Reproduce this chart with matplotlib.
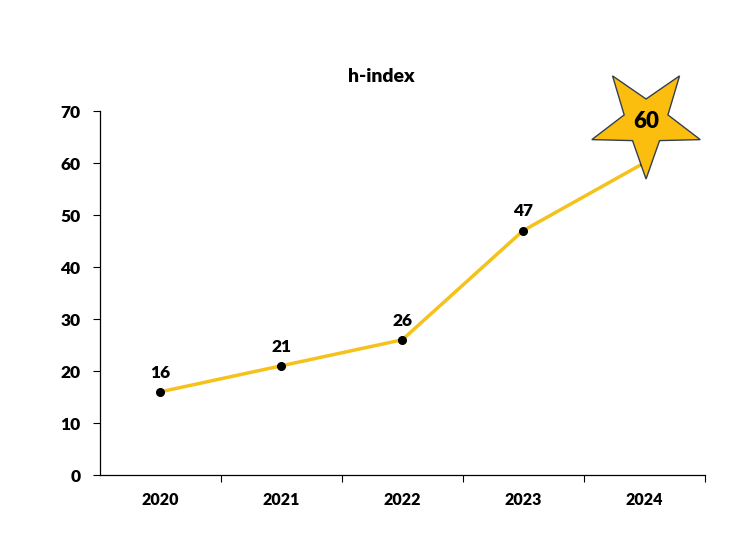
import matplotlib.pyplot as plt, numpy as np
from matplotlib.patches import Polygon

plt.rcParams["font.family"] = ["Lato", "DejaVu Sans"]
plt.rcParams["font.weight"] = "bold"

years = ["2020", "2021", "2022", "2023", "2024"]
hindex = [16, 21, 26, 47, 60]

W, H = 754, 554
fig = plt.figure(figsize=(W / 100, H / 100), dpi=100)
ax = fig.add_axes([100 / W, 1 - 475 / H, 604.5 / W, 364 / H])

x = np.arange(len(years))
ax.plot(x, hindex, color="#F5C21B", lw=2.5, marker="o", ms=5.5,
        mfc="black", mec="black", zorder=3)

# data labels, last one goes inside the star
for xi, yi in zip(x[:-1], hindex[:-1]):
    ax.annotate(str(yi), (xi, yi), xytext=(0, 8), textcoords="offset points",
                ha="center", va="bottom", fontsize=12.5, fontweight="heavy")

ax.set_xlim(-0.5, len(years) - 0.5)
ax.set_ylim(0, 70)
ax.set_yticks(range(0, 71, 10))
ax.set_xticks(x)
ax.set_xticklabels(years)
ax.set_xticks(np.arange(0.5, len(years)), minor=True)
ax.tick_params(axis="x", which="major", length=0, pad=12, labelsize=11.5)
ax.tick_params(axis="x", which="minor", length=5, width=0.8, direction="out")
ax.tick_params(axis="y", length=5, width=0.8, pad=9, labelsize=12.5)
for t in ax.get_xticklabels() + ax.get_yticklabels():
    t.set_fontweight("heavy")
for s in ["top", "right"]:
    ax.spines[s].set_visible(False)
for s in ["left", "bottom"]:
    ax.spines[s].set_linewidth(0.9)

fig.text(381 / W, 1 - 77 / H, "h-index", ha="center", va="center",
         fontsize=14, fontweight="heavy")

# star shape over the last point (pixel offsets from the point)
px, py = ax.transData.transform((x[-1], hindex[-1]))
cx, cy = px + 2, py + 41
R, r = 57, 23
angs = np.deg2rad(-90 + np.arange(10) * 36)
rad = np.where(np.arange(10) % 2 == 0, R, r)
verts = np.column_stack([cx + rad * np.cos(angs), cy + rad * np.sin(angs)])
star = Polygon(verts, closed=True, transform=None, facecolor="#FCBE0E",
               edgecolor="#333F50", lw=1.0, zorder=4)
fig.add_artist(star)
fig.text(cx / W, cy / H, str(hindex[-1]), ha="center", va="center",
         fontsize=16, fontweight="heavy", zorder=5)

fig.savefig("out.png", dpi=100)
